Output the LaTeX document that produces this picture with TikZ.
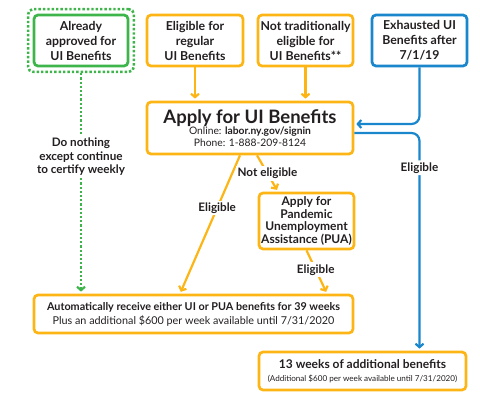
\documentclass[tikz,border=0pt]{standalone}
\usepackage{fontspec}
\setmainfont{Lato}
\usepackage{tikz}
\usetikzlibrary{arrows.meta,positioning,fit,backgrounds}
\definecolor{nyorange}{HTML}{FDB515}
\definecolor{nygreen}{HTML}{3DB54A}
\definecolor{nyblue}{HTML}{1A86CC}
\definecolor{nytext}{HTML}{231F20}
\tikzset{
  stepbox/.style={draw,rounded corners=4pt,line width=2.7pt,align=center,
    inner sep=2pt,text=nytext,font=\fontsize{12.3}{15}\selectfont\bfseries},
  orbox/.style={stepbox,draw=nyorange},
  grbox/.style={stepbox,draw=nygreen},
  blbox/.style={stepbox,draw=nyblue},
  dotbox/.style={draw=nygreen,rounded corners=5pt,line width=2.6pt,dash pattern=on 2.4pt off 2pt,inner sep=4.5pt},
  flow/.style={-{Straight Barb[length=3.5pt,width=8pt]},line width=2.2pt,shorten >=2pt},
  orflow/.style={flow,nyorange},
  blflow/.style={flow,nyblue,rounded corners=8pt},
  grflow/.style={flow,nygreen,dash pattern=on 2.2pt off 2pt},
  edgelbl/.style={fill=white,inner sep=2pt,align=center,text=nytext,font=\fontsize{11.7}{13.5}\selectfont\bfseries},
}

\begin{document}
\begin{tikzpicture}[x=1pt,y=-1pt]
  \useasboundingbox (0,0) rectangle (480,404);
  % top row
  \node[grbox,minimum width=94pt,minimum height=51pt] (nApproved) at (81,40.5) {Already\\approved for\\UI Benefits};
  \node[orbox,minimum width=96pt,minimum height=51pt] (nRegular) at (195,40.5) {Eligible for\\regular\\UI Benefits};
  \node[orbox,minimum width=95pt,minimum height=51pt] (nNotTrad) at (305.5,40.5) {Not traditionally\\eligible for\\UI Benefits**};
  \node[blbox,minimum width=95pt,minimum height=51pt] (nExhausted) at (419.5,40.5) {Exhausted UI\\Benefits after\\7/1/19};
  \node[dotbox,fit=(nApproved)] (nApprovedOut) {};
  % middle
  \node[orbox,minimum width=206pt,minimum height=52pt,font=\fontsize{10.3}{11.5}\selectfont] (nApply) at (250,128)
    {{\fontsize{18.5}{21}\selectfont\bfseries Apply for UI Benefits}\\Online: \textbf{labor.ny.gov/signin}\\Phone: 1-888-209-8124};
  \node[orbox,minimum width=95pt,minimum height=56pt,font=\fontsize{12}{12.5}\selectfont\bfseries] (nPUA) at (306.5,221)
    {Apply for\\Pandemic\\Unemployment\\Assistance (PUA)};
  % bottom
  \node[orbox,minimum width=319pt,minimum height=38pt,font=\fontsize{10.8}{14}\selectfont] (nAuto) at (193.5,314)
    {\textbf{Automatically receive either UI or PUA benefits for 39 weeks}\\Plus an additional \$600 per week available until 7/31/2020};
  \node[orbox,minimum width=207pt,minimum height=38pt,font=\fontsize{12}{13}\selectfont\bfseries] (nWeeks) at (362.5,371)
    {13 weeks of additional benefits\\{\fontsize{8.1}{10}\selectfont\mdseries (Additional \$600 per week available until 7/31/2020)}};

  % connectors
  \draw[orflow] (nRegular) -- (nRegular.south |- nApply.north);
  \draw[orflow] (nNotTrad) -- (nNotTrad.south |- nApply.north);
  \draw[grflow] (nApprovedOut) -- node[edgelbl,pos=0.38] {Do nothing\\except continue\\to certify weekly} (nApprovedOut.south |- nAuto.north);
  \draw[orflow] ([xshift=-10pt]nApply.south) -- node[edgelbl,pos=0.38] {Eligible} ([xshift=-13.5pt]nAuto.north);
  \draw[orflow] ([xshift=7pt]nApply.south) -- node[edgelbl,pos=0.5] {Not eligible} ([xshift=-28.5pt]nPUA.north);
  \draw[orflow] (nPUA.south) -- node[edgelbl,pos=0.45] {Eligible} ([xshift=133.5pt]nAuto.north);
  \draw[blflow] (nExhausted) |- ([yshift=4pt]nApply.east);
  \draw[blflow] ([yshift=-5pt]nApply.east) -| node[edgelbl,pos=0.58] {Eligible} (nWeeks.north -| nExhausted.south);
\end{tikzpicture}
\end{document}
